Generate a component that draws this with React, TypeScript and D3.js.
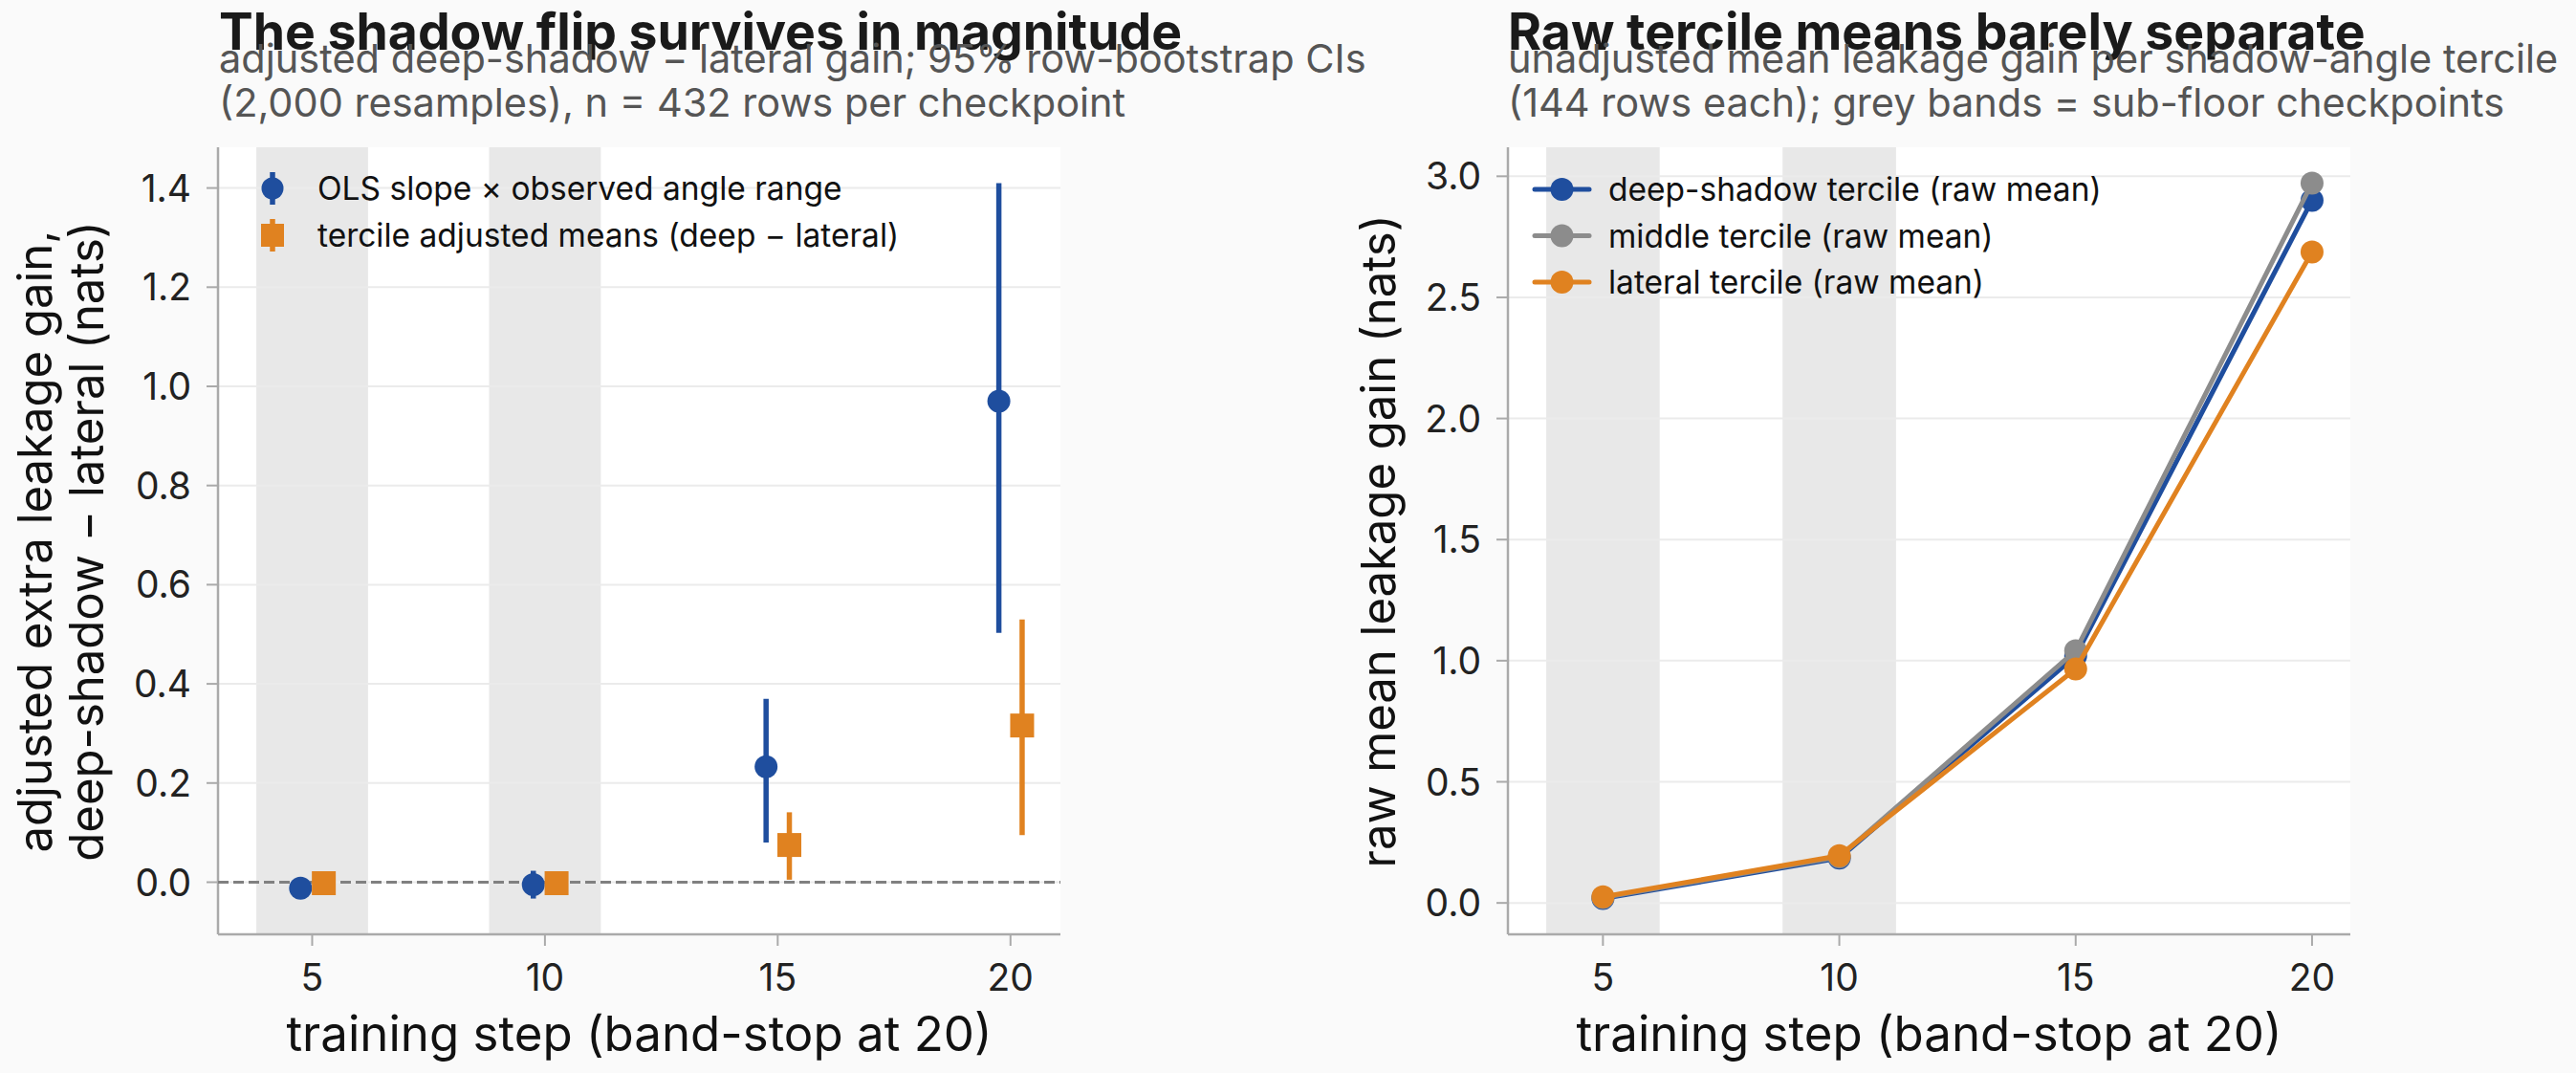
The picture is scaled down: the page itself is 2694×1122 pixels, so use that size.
import React, { useEffect, useRef } from "react";
import * as d3 from "d3";

// checkpoints and the sub-floor ones that get a grey band
const steps = [5, 10, 15, 20];
const subFloorSteps = [5, 10];

// left panel: deep-shadow minus lateral, point estimate and 95% CI
const olsEst = [-0.012, -0.005, 0.233, 0.97];
const olsLo = [-0.028, -0.033, 0.08, 0.503];
const olsHi = [0.004, 0.023, 0.37, 1.41];
const tercEst = [-0.002, -0.002, 0.075, 0.316];
const tercLo = [-0.015, -0.016, 0.005, 0.095];
const tercHi = [0.012, 0.013, 0.141, 0.53];

// right panel: raw tercile means
const deepRaw = [0.018, 0.185, 1.02, 2.901];
const middleRaw = [0.022, 0.19, 1.041, 2.972];
const lateralRaw = [0.025, 0.195, 0.966, 2.687];

const leftTicks = [0, 0.2, 0.4, 0.6, 0.8, 1.0, 1.2, 1.4];
const rightTicks = [0, 0.5, 1.0, 1.5, 2.0, 2.5, 3.0];

const BLUE = "#1f4e9e";
const ORANGE = "#e08220";
const GREY = "#8c8c8c";
const BAND = "#e8e8e8";
const FONT = "Inter, 'Noto Sans', sans-serif";

const W = 2694;
const H = 1122;
const BAND_HALF = 1.2;
const OFFSET = 0.25;

// matplotlib-style 5% padding around the data extent
const padded = (lo: number, hi: number): [number, number] => {
  const m = (hi - lo) * 0.05;
  return [lo - m, hi + m];
};

export default function App() {
  const ref = useRef<SVGSVGElement>(null);

  useEffect(() => {
    const svg = d3.select(ref.current);
    svg.selectAll("*").remove();
    svg.append("rect").attr("width", W).attr("height", H).attr("fill", "#fafafa");

    const top = 154, bottom = 977;
    const panels = [
      { x0: 228, x1: 1109 },
      { x0: 1577, x1: 2458 },
    ];

    const drawFrame = (
      g: d3.Selection<SVGGElement, unknown, null, undefined>,
      x: d3.ScaleLinear<number, number>,
      y: d3.ScaleLinear<number, number>,
      yTicks: number[],
      yFmt: (v: number) => string,
      x0: number,
      x1: number
    ) => {
      g.append("rect").attr("x", x0).attr("y", top).attr("width", x1 - x0).attr("height", bottom - top).attr("fill", "#ffffff");
      g.selectAll(".band").data(subFloorSteps).join("rect")
        .attr("x", (d) => x(d - BAND_HALF))
        .attr("y", top)
        .attr("width", (d) => x(d + BAND_HALF) - x(d - BAND_HALF))
        .attr("height", bottom - top)
        .attr("fill", BAND);
      g.selectAll(".grid").data(yTicks).join("line")
        .attr("x1", x0).attr("x2", x1)
        .attr("y1", (d) => y(d)).attr("y2", (d) => y(d))
        .attr("stroke", "#ebebeb").attr("stroke-width", 2);

      // spines
      g.append("line").attr("x1", x0).attr("x2", x0).attr("y1", top).attr("y2", bottom).attr("stroke", "#aaaaaa").attr("stroke-width", 2.5);
      g.append("line").attr("x1", x0).attr("x2", x1).attr("y1", bottom).attr("y2", bottom).attr("stroke", "#aaaaaa").attr("stroke-width", 2.5);

      // y ticks
      g.selectAll(".yt").data(yTicks).join("line")
        .attr("x1", x0 - 12).attr("x2", x0)
        .attr("y1", (d) => y(d)).attr("y2", (d) => y(d))
        .attr("stroke", "#aaaaaa").attr("stroke-width", 2);
      g.selectAll(".yl").data(yTicks).join("text")
        .attr("x", x0 - 28).attr("y", (d) => y(d)).attr("dy", "0.36em")
        .attr("text-anchor", "end").attr("font-family", FONT).attr("font-size", 39).attr("fill", "#222")
        .text(yFmt);

      // x ticks
      g.selectAll(".xt").data(steps).join("line")
        .attr("x1", (d) => x(d)).attr("x2", (d) => x(d))
        .attr("y1", bottom).attr("y2", bottom + 12)
        .attr("stroke", "#aaaaaa").attr("stroke-width", 2);
      g.selectAll(".xl").data(steps).join("text")
        .attr("x", (d) => x(d)).attr("y", 1036)
        .attr("text-anchor", "middle").attr("font-family", FONT).attr("font-size", 39).attr("fill", "#222")
        .text((d) => String(d));

      g.append("text").attr("x", (x0 + x1) / 2).attr("y", 1099)
        .attr("text-anchor", "middle").attr("font-family", FONT).attr("font-size", 51).attr("fill", "#111")
        .text("training step (band-stop at 20)");
    };

    const drawTitles = (g: d3.Selection<SVGGElement, unknown, null, undefined>, x0: number, title: string, sub: string[]) => {
      g.append("text").attr("x", x0).attr("y", 52).attr("font-family", FONT).attr("font-size", 53.5)
        .attr("font-weight", 700).attr("fill", "#1a1a1a").text(title);
      sub.forEach((s, i) => {
        g.append("text").attr("x", x0).attr("y", 76 + i * 46).attr("font-family", FONT).attr("font-size", 41.5)
          .attr("fill", "#555555").text(s);
      });
    };

    // ---------- left panel: adjusted difference with CIs ----------
    {
      const { x0, x1 } = panels[0];
      const g = svg.append("g");
      const xs = [...steps.map((s) => s - OFFSET), ...steps.map((s) => s + OFFSET), ...subFloorSteps.map((s) => s - BAND_HALF)];
      const x = d3.scaleLinear().domain(padded(d3.min(xs)!, d3.max(xs)!)).range([x0, x1]);
      const ys = [...olsLo, ...olsHi, ...tercLo, ...tercHi];
      const y = d3.scaleLinear().domain(padded(d3.min(ys)!, d3.max(ys)!)).range([bottom, top]);

      drawFrame(g, x, y, leftTicks, d3.format(".1f"), x0, x1);

      g.append("line").attr("x1", x0).attr("x2", x1).attr("y1", y(0)).attr("y2", y(0))
        .attr("stroke", "#808080").attr("stroke-width", 3).attr("stroke-dasharray", "11 5");

      const series = [
        { est: olsEst, lo: olsLo, hi: olsHi, dx: -OFFSET, color: BLUE, shape: "circle" },
        { est: tercEst, lo: tercLo, hi: tercHi, dx: OFFSET, color: ORANGE, shape: "square" },
      ];
      series.forEach((s) => {
        const pts = steps.map((st, i) => ({ x: st + s.dx, est: s.est[i], lo: s.lo[i], hi: s.hi[i] }));
        g.selectAll(null).data(pts).join("line")
          .attr("x1", (d) => x(d.x)).attr("x2", (d) => x(d.x))
          .attr("y1", (d) => y(d.lo)).attr("y2", (d) => y(d.hi))
          .attr("stroke", s.color).attr("stroke-width", 5.5);
        if (s.shape === "circle") {
          g.selectAll(null).data(pts).join("circle")
            .attr("cx", (d) => x(d.x)).attr("cy", (d) => y(d.est)).attr("r", 12).attr("fill", s.color);
        } else {
          g.selectAll(null).data(pts).join("rect")
            .attr("x", (d) => x(d.x) - 12.5).attr("y", (d) => y(d.est) - 12.5)
            .attr("width", 25).attr("height", 25).attr("fill", s.color);
        }
      });

      // legend
      const legend = [
        { label: "OLS slope \u00d7 observed angle range", color: BLUE, shape: "circle" },
        { label: "tercile adjusted means (deep \u2212 lateral)", color: ORANGE, shape: "square" },
      ];
      legend.forEach((l, i) => {
        const cy = 197 + i * 49;
        const cx = 285;
        g.append("line").attr("x1", cx).attr("x2", cx).attr("y1", cy - 17).attr("y2", cy + 17)
          .attr("stroke", l.color).attr("stroke-width", 5.5);
        if (l.shape === "circle") {
          g.append("circle").attr("cx", cx).attr("cy", cy).attr("r", 11.5).attr("fill", l.color);
        } else {
          g.append("rect").attr("x", cx - 12).attr("y", cy - 12).attr("width", 24).attr("height", 24).attr("fill", l.color);
        }
        g.append("text").attr("x", 332).attr("y", cy).attr("dy", "0.36em").attr("font-family", FONT)
          .attr("font-size", 33.5).attr("fill", "#111").text(l.label);
      });

      // two-line y label
      const yl = g.append("text").attr("transform", `translate(0, 566) rotate(-90)`)
        .attr("text-anchor", "middle").attr("font-family", FONT).attr("font-size", 49).attr("fill", "#111");
      yl.append("tspan").attr("x", 0).attr("y", 54).text("adjusted extra leakage gain,");
      yl.append("tspan").attr("x", 0).attr("y", 108).text("deep-shadow \u2212 lateral (nats)");

      drawTitles(g, 229, "The shadow flip survives in magnitude", [
        "adjusted deep-shadow \u2212 lateral gain; 95% row-bootstrap CIs",
        "(2,000 resamples), n = 432 rows per checkpoint",
      ]);
    }

    // ---------- right panel: raw tercile means ----------
    {
      const { x0, x1 } = panels[1];
      const g = svg.append("g");
      const xs = [...steps, ...subFloorSteps.map((s) => s - BAND_HALF)];
      const x = d3.scaleLinear().domain(padded(d3.min(xs)!, d3.max(xs)!)).range([x0, x1]);
      const ys = [...deepRaw, ...middleRaw, ...lateralRaw];
      const y = d3.scaleLinear().domain(padded(d3.min(ys)!, d3.max(ys)!)).range([bottom, top]);

      drawFrame(g, x, y, rightTicks, d3.format(".1f"), x0, x1);

      const lines = [
        { label: "deep-shadow tercile (raw mean)", vals: deepRaw, color: BLUE },
        { label: "middle tercile (raw mean)", vals: middleRaw, color: GREY },
        { label: "lateral tercile (raw mean)", vals: lateralRaw, color: ORANGE },
      ];
      const path = d3.line<number>().x((_, i) => x(steps[i])).y((d) => y(d));
      lines.forEach((s) => {
        g.append("path").attr("d", path(s.vals)).attr("fill", "none").attr("stroke", s.color)
          .attr("stroke-width", 5).attr("stroke-linejoin", "round");
        g.selectAll(null).data(s.vals).join("circle")
          .attr("cx", (_, i) => x(steps[i])).attr("cy", (d) => y(d)).attr("r", 12).attr("fill", s.color);
      });

      lines.forEach((s, i) => {
        const cy = 198 + i * 48.5;
        g.append("line").attr("x1", 1605).attr("x2", 1662).attr("y1", cy).attr("y2", cy)
          .attr("stroke", s.color).attr("stroke-width", 5).attr("stroke-linecap", "round");
        g.append("circle").attr("cx", 1633.5).attr("cy", cy).attr("r", 12).attr("fill", s.color);
        g.append("text").attr("x", 1682).attr("y", cy).attr("dy", "0.36em").attr("font-family", FONT)
          .attr("font-size", 33.5).attr("fill", "#111").text(s.label);
      });

      g.append("text").attr("transform", `translate(1459, 566) rotate(-90)`)
        .attr("text-anchor", "middle").attr("font-family", FONT).attr("font-size", 49).attr("fill", "#111")
        .text("raw mean leakage gain (nats)");

      drawTitles(g, 1577, "Raw tercile means barely separate", [
        "unadjusted mean leakage gain per shadow-angle tercile",
        "(144 rows each); grey bands = sub-floor checkpoints",
      ]);
    }
  }, []);

  return (
    <svg
      ref={ref}
      width={W}
      height={H}
      style={{ position: "absolute", left: 0, top: 0, display: "block" }}
    />
  );
}
